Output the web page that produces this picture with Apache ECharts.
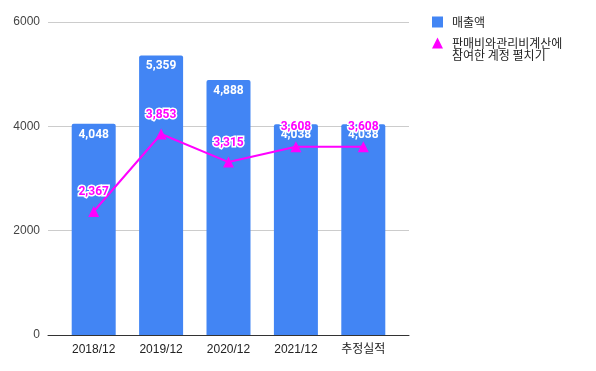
<!DOCTYPE html>
<html><head><meta charset="utf-8">
<script src="https://cdn.jsdelivr.net/npm/echarts@6/dist/echarts.min.js"></script>
<style>html,body{margin:0;padding:0;background:#fff}#c{width:596px;height:371px}</style>
</head><body><div id="c"></div>
<script>
var categories = ['2018/12', '2019/12', '2020/12', '2021/12', '추정실적'];
var salesValues = [4048, 5359, 4888, 4038, 4038];
var sgaValues = [2367, 3853, 3315, 3608, 3608];
var yTicks = [0, 2000, 4000, 6000];
var salesName = '매출액';
var sgaName = '판매비와관리비계산에';
var sgaName2 = '참여한 계정 펼치기';

var fontAxis = 'Arial, "Liberation Sans", "Noto Sans CJK KR", sans-serif';
var fontLabel = 'Roboto, Arial, sans-serif';
var fontLegend = '"Noto Sans CJK KR", sans-serif';
var chart = echarts.init(document.getElementById('c'));
var fmt = function (p) { return p.value.toLocaleString('en-US'); };
chart.setOption({
  animation: false,
  grid: [
    {left: 48, right: 187, top: 22, bottom: 36},
    {left: 60, right: 199, top: 22, bottom: 36}
  ],
  xAxis: [
    {gridIndex: 0, type: 'value', min: 0, max: 1, show: true,
     axisLine: {show: true, onZero: false, lineStyle: {color: '#333', width: 1}},
     axisTick: {show: false}, axisLabel: {show: false}, splitLine: {show: false}},
    {gridIndex: 1, type: 'category', data: categories,
     axisLine: {show: false}, axisTick: {show: false},
     axisLabel: {color: '#222', fontSize: 12, fontFamily: fontAxis, margin: 9}}
  ],
  yAxis: [
    {gridIndex: 0, type: 'value', min: yTicks[0], max: yTicks[yTicks.length - 1], interval: 2000,
     axisLine: {show: false}, axisTick: {show: false},
     axisLabel: {color: '#444', fontSize: 12, fontFamily: fontAxis, margin: 8,
                 formatter: function (v) { return String(v); }},
     splitLine: {lineStyle: {color: '#cccccc', width: 1}}},
    {gridIndex: 1, type: 'value', min: 0, max: 6000, interval: 2000, show: false}
  ],
  legend: {
    orient: 'vertical', left: 432, top: 15, itemGap: 7,
    itemWidth: 11, itemHeight: 11, padding: 0,
    textStyle: {color: '#222', fontSize: 12, fontFamily: fontLegend, lineHeight: 14,
                padding: [0, 0, 0, 4]},
    data: [
      {name: salesName, icon: 'rect'},
      {name: sgaName, icon: 'triangle'}
    ]
  },
  graphic: [
    {type: 'text', x: 452, y: 49,
     style: {text: sgaName2, fill: '#222', fontSize: 12, fontFamily: fontLegend,
             align: 'left', verticalAlign: 'top'}}
  ],
  series: [
    {name: salesName, type: 'bar', xAxisIndex: 1, yAxisIndex: 1, data: salesValues,
     barWidth: 44, itemStyle: {color: '#4285f4', borderRadius: [2, 2, 0, 0]},
     label: {show: true, position: 'insideTop', distance: 5, color: '#fff', fontWeight: 'bold',
             fontSize: 12, fontFamily: fontLabel, formatter: fmt}},
    {name: sgaName, type: 'line', xAxisIndex: 1, yAxisIndex: 1, data: sgaValues,
     symbol: 'triangle', symbolSize: 11,
     lineStyle: {color: '#ff00ff', width: 2}, itemStyle: {color: '#ff00ff'},
     label: {show: true, position: 'top', distance: 8, color: '#ff00ff', fontWeight: 'bold',
             fontSize: 12, fontFamily: fontLabel, textBorderColor: '#fff', textBorderWidth: 3,
             formatter: fmt}, z: 5}
  ]
});
</script></body></html>
